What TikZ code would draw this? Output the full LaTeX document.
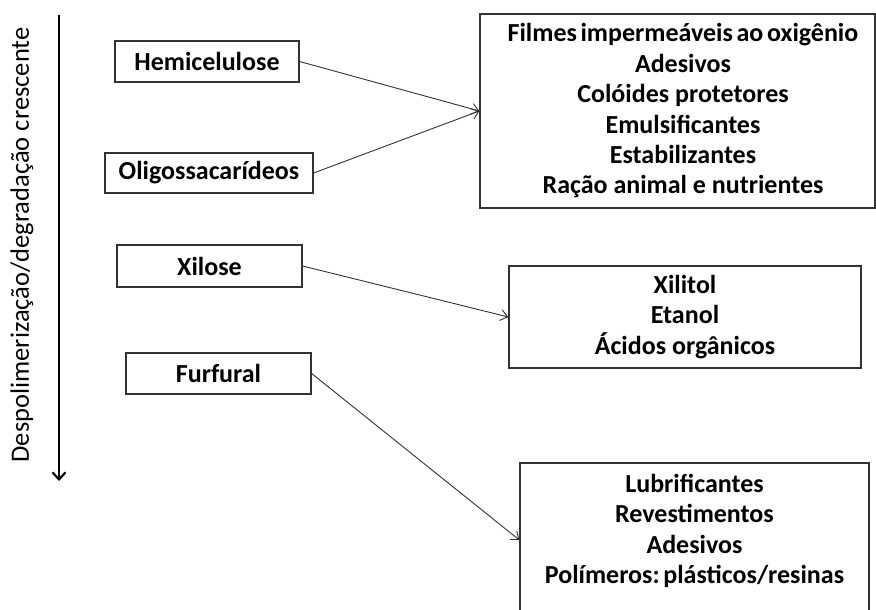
\documentclass[tikz,border=0pt]{standalone}
\usepackage{fontspec}
\setmainfont{Carlito}
\usetikzlibrary{arrows.meta}
\definecolor{edge}{HTML}{333333}
\begin{document}
\begin{tikzpicture}[x=1pt,y=-1pt,
  src/.style={draw=edge, line width=1.3pt, minimum height=41pt, inner sep=0pt,
    font=\fontsize{26}{30.4}\selectfont\bfseries},
  dst/.style={draw=edge, line width=1.3pt, inner sep=0pt, align=center,
    font=\fontsize{26}{30.4}\selectfont\bfseries},
  txt/.style={inner sep=0pt, align=center, font=\fontsize{26}{30.4}\selectfont\bfseries},
  conn/.style={draw=edge, line width=0.9pt, -{Straight Barb[length=7pt,width=11pt,line width=0.9pt]}}]
\useasboundingbox (0,0) rectangle (876,610);
\fill[white] (0,0) rectangle (876,610);

% axis
\coordinate (atop) at (59,15);
\coordinate (abot) at (59,481);
\draw[line width=2.6pt, -{Straight Barb[length=7pt,width=13pt,line width=2.2pt]}] (atop) -- (abot);
\node[rotate=90, inner sep=0pt, font=\fontsize{26.5}{30}\selectfont] (lab) at (22,245) {Despolimerização/degradação crescente};

% sources
\node[src, minimum width=184pt] (hemi) at (207,61.5) {Hemicelulose};
\node[src, minimum width=208pt, minimum height=40pt] (oligo) at (209,173) {Oligossacarídeos};
\node[src, minimum width=185pt, minimum height=42pt] (xil) at (209.5,266) {Xilose};
\node[src, minimum width=185pt] (furf) at (218.5,373.5) {Furfural};

% destinations
\node[dst, minimum width=395pt, minimum height=194pt] (d1) at (677.5,111) {};
\node[txt] (t1) at (683,111) {{\spaceskip=0.14em Filmes impermeáveis ao oxigênio}\\Adesivos\\Colóides protetores\\Emulsificantes\\Estabilizantes\\Ração animal e nutrientes};

\node[dst, minimum width=352pt, minimum height=102pt] (d2) at (685,317) {};
\node[txt] (t2) at (685,317) {Xilitol\\Etanol\\Ácidos orgânicos};

\node[dst, minimum width=349pt, minimum height=154pt] (d3) at (694.5,540) {};
\node[txt] (t3) at (694.5,531) {Lubrificantes\\Revestimentos\\Adesivos\\{\frenchspacing\spaceskip=0.14em Polímeros: plásticos/resinas}};

% connectors
\draw[conn] (hemi.east) -- (d1.west);
\draw[conn] (oligo.east) -- (d1.west);
\draw[conn] (xil.east) -- (d2.west);
\draw[conn] (furf.east) -- (d3.west);
\end{tikzpicture}
\end{document}
